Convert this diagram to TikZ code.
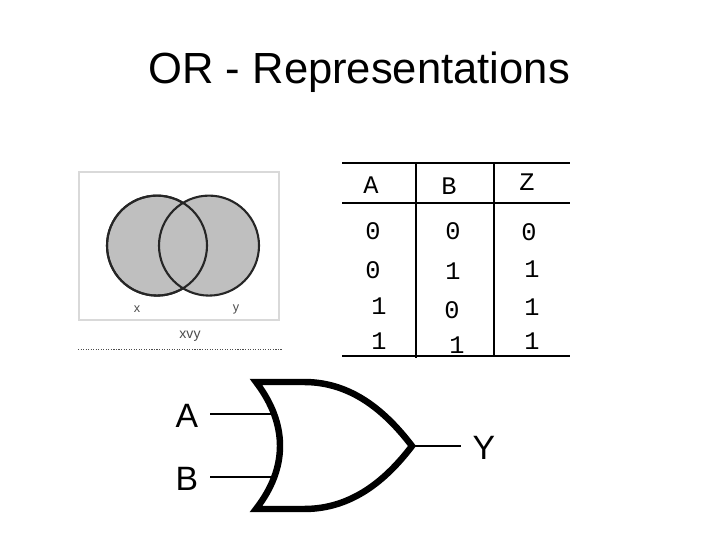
\documentclass[tikz,border=0pt]{standalone}
\usepackage{fontspec}
\setmainfont{Liberation Sans}
\setmonofont{Liberation Mono}
\tikzset{
    title/.style={font=\fontsize{31}{36}\selectfont},
    venn/.style={circle, draw=black!85, line width=1.5pt, fill=black!25, minimum size=2.5cm, inner sep=0pt},
    vennlabel/.style={font=\fontsize{9}{11}\selectfont, text=black!70, inner sep=1pt},
    rule/.style={line width=1.3pt},
    cell/.style={font=\ttfamily\fontsize{18}{20}\selectfont, inner sep=1pt},
    wire/.style={line width=1.4pt},
    gate/.style={line width=4.6pt, miter limit=20},
    gatelabel/.style={font=\fontsize{24}{28}\selectfont, inner sep=8.5pt, text height=19pt},
}

\begin{document}
\begin{tikzpicture}
    \useasboundingbox (0, 0) rectangle (18, 13.5);
    \node[title] (head) at (8.98, 11.7) {OR - Representations};

    % venn picture
    \draw[black!15, line width=1.2pt] (1.975, 5.5) rectangle (6.975, 9.2);
    \node[venn] (x) at (3.925, 7.36) {};
    \node[venn] (y) at (5.225, 7.36) {};
    \draw[black!85, line width=1.5pt] (x.center) circle (1.25);
    \node[vennlabel] (xl) at (3.425, 5.775) {x};
    \node[vennlabel] (yl) at (5.9, 5.775) {y};
    \node[vennlabel, font=\fontsize{10}{12}\selectfont] (xvy) at (4.75, 5.1) {xvy};
    \draw[black!70, line width=0.8pt, densely dotted] (1.95, 4.76) -- (7.05, 4.76);

    % truth table
    \draw[rule] (8.55, 9.425) -- (14.25, 9.425);
    \draw[rule] (8.55, 8.425) -- (14.25, 8.425);
    \draw[rule] (8.55, 4.6) -- (14.25, 4.6);
    \draw[rule] (10.4, 9.425) -- (10.4, 4.55);
    \draw[rule] (12.35, 9.425) -- (12.35, 4.6);

    \node[cell] (hA) at (9.275, 8.875) {A};
    \node[cell] (hB) at (11.225, 8.85) {B};
    \node[cell] (hZ) at (13.175, 8.95) {Z};

    \node[cell] (a1) at (9.325, 7.725) {0};
    \node[cell] (b1) at (11.325, 7.725) {0};
    \node[cell] (z1) at (13.225, 7.7) {0};
    \node[cell] (a2) at (9.325, 6.75) {0};
    \node[cell] (b2) at (11.325, 6.725) {1};
    \node[cell] (z2) at (13.3, 6.775) {1};
    \node[cell] (a3) at (9.475, 5.85) {1};
    \node[cell] (b3) at (11.3, 5.75) {0};
    \node[cell] (z3) at (13.3, 5.825) {1};
    \node[cell] (a4) at (9.475, 4.975) {1};
    \node[cell] (b4) at (11.425, 4.875) {1};
    \node[cell] (z4) at (13.3, 4.975) {1};

    % or gate
    \coordinate (gt) at (6.4, 3.95);
    \coordinate (gb) at (6.4, 0.775);
    \coordinate (tip) at (10.3, 2.35);
    \coordinate (inA) at (6.825, 3.15);
    \coordinate (inB) at (6.825, 1.575);
    \node[gatelabel] (A) at (4.675, 3.15) {A};
    \node[gatelabel] (B) at (4.675, 1.575) {B};
    \node[gatelabel] (Y) at (12.1, 2.35) {Y};

    \draw[wire] (A) to (inA);
    \draw[wire] (B) to (inB);
    \draw[wire] (tip) to (Y);
    \draw[gate] (gt) .. controls (7.2, 2.9) and (7.2, 1.8) .. (gb)
        -- (7.6, 0.775) .. controls (8.8, 0.775) and (9.65, 1.5) .. (tip)
        .. controls (9.65, 3.2) and (8.8, 3.95) .. (7.6, 3.95) -- cycle;
\end{tikzpicture}
\end{document}
